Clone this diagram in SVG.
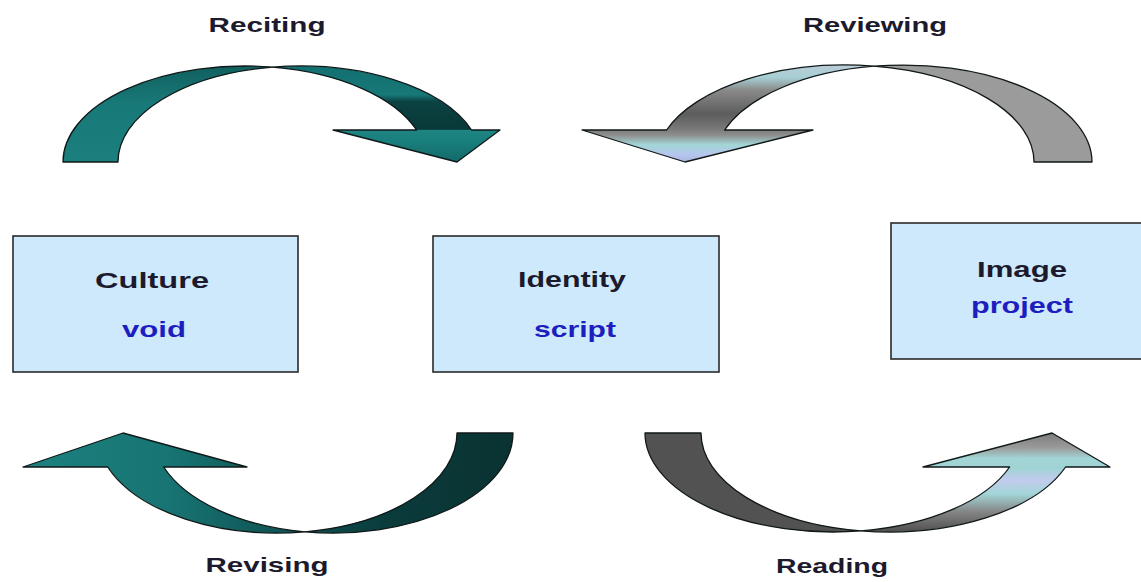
<svg xmlns="http://www.w3.org/2000/svg" width="1141" height="582" viewBox="0 0 1141 582">
  <style>
    .box { fill: #cde9fb; stroke: #2a2a2a; stroke-width: 1.6; }
    .title { font-family: "Liberation Sans", Arial, sans-serif; font-weight: bold; font-size: 22px; fill: #1c1a2c; text-anchor: middle; }
    .sub { font-family: "Liberation Sans", Arial, sans-serif; font-weight: bold; font-size: 22px; fill: #1e1ec0; text-anchor: middle; }
    .label { font-family: "Liberation Sans", Arial, sans-serif; font-weight: bold; font-size: 21px; fill: #1c1a2c; text-anchor: middle; }
    .arrow { stroke: #101818; stroke-width: 1.3; stroke-linejoin: round; }
  </style>
  <defs>
    <!-- teal curved arrow, top left -->
    <linearGradient id="tealLeft" gradientUnits="userSpaceOnUse" x1="0" y1="66" x2="0" y2="162">
      <stop offset="0" stop-color="#11605f"/>
      <stop offset="0.4" stop-color="#187a78"/>
      <stop offset="1" stop-color="#1a7f7d"/>
    </linearGradient>
    <linearGradient id="tealRight" gradientUnits="userSpaceOnUse" x1="0" y1="66" x2="0" y2="162">
      <stop offset="0" stop-color="#137070"/>
      <stop offset="0.3" stop-color="#167877"/>
      <stop offset="0.37" stop-color="#0c4242"/>
      <stop offset="0.66" stop-color="#093838"/>
      <stop offset="0.67" stop-color="#1d8583"/>
      <stop offset="0.8" stop-color="#197d7b"/>
      <stop offset="1" stop-color="#126a69"/>
    </linearGradient>
    <!-- teal curved arrow, bottom left -->
    <linearGradient id="tealBottom" gradientUnits="userSpaceOnUse" x1="23" y1="0" x2="513" y2="0">
      <stop offset="0" stop-color="#1c827f"/>
      <stop offset="0.3" stop-color="#177472"/>
      <stop offset="0.55" stop-color="#0f5050"/>
      <stop offset="0.75" stop-color="#0b3b3b"/>
      <stop offset="1" stop-color="#0a3232"/>
    </linearGradient>
    <!-- grey / cyan curved arrow, top right -->
    <linearGradient id="silverTop" gradientUnits="userSpaceOnUse" x1="0" y1="66" x2="0" y2="162">
      <stop offset="0" stop-color="#b9ccd8"/>
      <stop offset="0.12" stop-color="#a6cfd4"/>
      <stop offset="0.25" stop-color="#8a8a8a"/>
      <stop offset="0.5" stop-color="#5c5c5c"/>
      <stop offset="0.66" stop-color="#7a7a7a"/>
      <stop offset="0.72" stop-color="#8e8e8e"/>
      <stop offset="0.82" stop-color="#a2d6d6"/>
      <stop offset="0.92" stop-color="#b6c6ee"/>
      <stop offset="1" stop-color="#aab4e0"/>
    </linearGradient>
    <!-- grey / cyan curved arrow, bottom right -->
    <linearGradient id="silverBottom" gradientUnits="userSpaceOnUse" x1="0" y1="433" x2="0" y2="531">
      <stop offset="0" stop-color="#7c7c7c"/>
      <stop offset="0.15" stop-color="#9a9a9a"/>
      <stop offset="0.26" stop-color="#a2d6d6"/>
      <stop offset="0.36" stop-color="#9fd3d4"/>
      <stop offset="0.48" stop-color="#c2cbee"/>
      <stop offset="0.62" stop-color="#a3d6d8"/>
      <stop offset="0.8" stop-color="#868686"/>
      <stop offset="1" stop-color="#525252"/>
    </linearGradient>
  </defs>

  <rect x="0" y="0" width="1141" height="582" fill="#ffffff"/>

  <!-- curved arrows between the boxes -->
  <g id="connectors">
    <g id="arrow-reciting">
      <path class="arrow" fill="url(#tealLeft)" d="M63,162 A182,96 0 0 1 272.5,67.1 A182,96 0 0 0 118,162 Z"/>
      <path class="arrow" fill="url(#tealRight)" d="M272.5,67.1 A182,96 0 0 1 471.6,130 L500,130 L457,162 L333,130 L416.6,130 A182,96 0 0 0 272.5,67.1 Z"/>
    </g>
    <g id="arrow-reviewing">
      <path class="arrow" fill="#9b9b9b" d="M1092,162 A189,97 0 0 0 874,66.2 A189,97 0 0 1 1034,162 Z"/>
      <path class="arrow" fill="url(#silverTop)" d="M874,66.2 A189,97 0 0 0 666.6,130 L582,130 L685,162 L813,130 L724.6,130 A189,97 0 0 1 874,66.2 Z"/>
    </g>
    <g id="arrow-revising">
      <path class="arrow" fill="url(#tealBottom)" d="M513,433 A180,100 0 0 1 305,531.8 A180,100 0 0 0 457,433 Z"/>
      <path class="arrow" fill="url(#tealBottom)" d="M305,531.8 A180,100 0 0 1 107.7,467 L23,467 L123,433 L247,467 L163.7,467 A180,100 0 0 0 305,531.8 Z"/>
    </g>
    <g id="arrow-reading">
      <path class="arrow" fill="#525252" d="M645,433 A188,99 0 0 0 861,530.9 A188,99 0 0 1 701,433 Z"/>
      <path class="arrow" fill="url(#silverBottom)" d="M861,530.9 A188,99 0 0 0 1065.6,467 L1110,467 L1052,433 L923,467 L1009.6,467 A188,99 0 0 1 861,530.9 Z"/>
    </g>
    <text class="label" x="267" y="32" textLength="117" lengthAdjust="spacingAndGlyphs">Reciting</text>
    <text class="label" x="875" y="32" textLength="144" lengthAdjust="spacingAndGlyphs">Reviewing</text>
    <text class="label" x="267" y="572" textLength="123" lengthAdjust="spacingAndGlyphs">Revising</text>
    <text class="label" x="832" y="573" textLength="112" lengthAdjust="spacingAndGlyphs">Reading</text>
  </g>

  <g id="box-culture">
    <rect class="box" x="13" y="236" width="285" height="136"/>
    <text class="title" x="152" y="288" textLength="114" lengthAdjust="spacingAndGlyphs">Culture</text>
    <text class="sub" x="154" y="337" textLength="64" lengthAdjust="spacingAndGlyphs">void</text>
  </g>

  <g id="box-identity">
    <rect class="box" x="433" y="236" width="286" height="136"/>
    <text class="title" x="572" y="287" textLength="108" lengthAdjust="spacingAndGlyphs">Identity</text>
    <text class="sub" x="575" y="337" textLength="82" lengthAdjust="spacingAndGlyphs">script</text>
  </g>

  <g id="box-image">
    <rect class="box" x="891" y="223" width="286" height="136"/>
    <text class="title" x="1022" y="277" textLength="90" lengthAdjust="spacingAndGlyphs">Image</text>
    <text class="sub" x="1022" y="313" textLength="102" lengthAdjust="spacingAndGlyphs">project</text>
  </g>
</svg>
